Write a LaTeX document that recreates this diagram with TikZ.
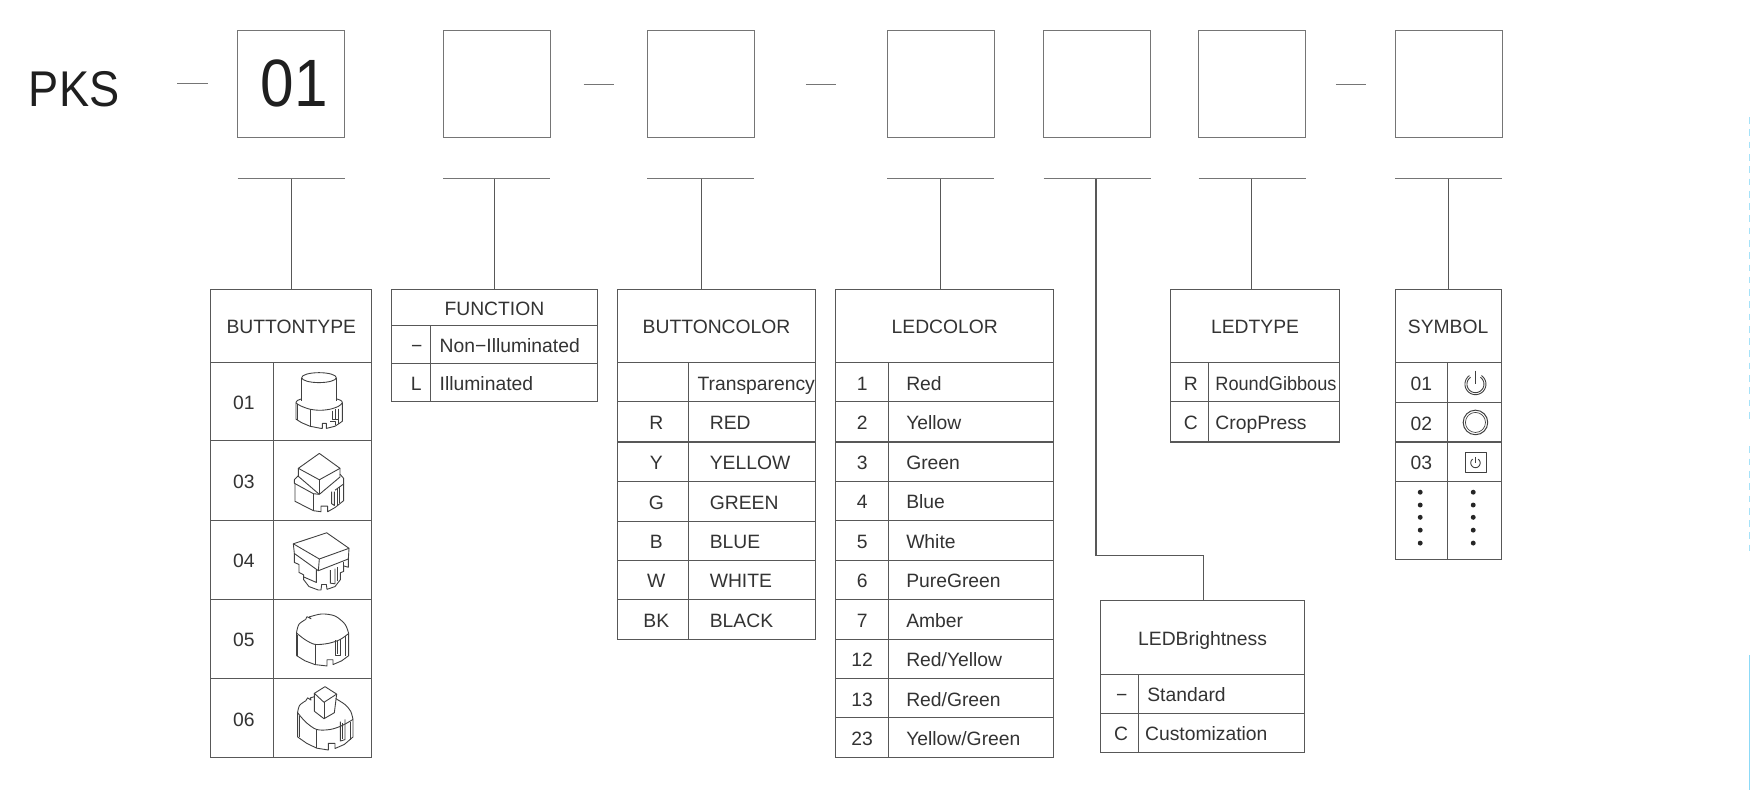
\documentclass[tikz,border=0pt]{standalone}
\usepackage{fontspec}
\setmainfont{Liberation Sans}
\definecolor{ink}{HTML}{333333}
\definecolor{rule}{HTML}{585858}
\definecolor{topline}{HTML}{757575}
\definecolor{iconline}{HTML}{404040}
\newcommand\tabfont{\fontsize{17.3}{20}\selectfont}
% \cellC{name}{x1}{y1}{x2}{y2}{text}: centred text
\newcommand\cellC[6]{%
  \pgfmathsetmacro\cw{#4-#2}\pgfmathsetmacro\ch{#5-#3}%
  \pgfmathsetmacro\cx{(#2+#4)/2}\pgfmathsetmacro\cy{(#3+#5)/2}%
  \node[cellbox,minimum width=\cw pt,minimum height=\ch pt] (#1) at (\cx,\cy) {#6};}
% \cellL{name}{x1}{y1}{x2}{y2}{inset}{text}: left-set text
\newcommand\cellL[7]{%
  \pgfmathsetmacro\cw{#4-#2}\pgfmathsetmacro\ch{#5-#3}%
  \pgfmathsetmacro\cx{(#2+#4)/2}\pgfmathsetmacro\cy{(#3+#5)/2}%
  \node[cellbox,minimum width=\cw pt,minimum height=\ch pt] (#1) at (\cx,\cy) {\makebox[\cw pt][l]{\hspace*{#6pt}#7}};}
\newcommand\powerglyph[3]{% x y r
  \draw[iconstroke] plot[domain=125:415,samples=40] ({#1+#3*cos(\x)},{#2-#3*sin(\x)});
  \draw[iconstroke] (#1,#2-1.3*#3) -- (#1,#2);}
\tikzset{
  cellbox/.style={draw=rule,line width=.95pt,inner sep=0pt,outer sep=0pt,text=ink,
    font=\tabfont,text height=14.2pt,text depth=0pt,align=center},
  codebox/.style={draw=topline,line width=1pt,minimum width=96pt,minimum height=96pt,inner sep=0pt,outer sep=0pt,text=black!88},
  barline/.style={draw=topline,line width=1pt},
  link/.style={draw=rule,line width=.95pt},
  dashline/.style={draw=topline,line width=1pt},
  iconstroke/.style={draw=iconline,line width=.8pt,line join=round},
}
\begin{document}
\begin{tikzpicture}[x=1pt,y=-1pt]
\useasboundingbox (0,0) rectangle (1568,716);
\fill[white] (0,0) rectangle (1568,716);

% heading row
\node[text=black!88,font=\fontsize{45}{50}\selectfont] (pks) at (66.5,80) {\scalebox{.9}[1]{PKS}};
\node[codebox,font=\fontsize{60}{64}\selectfont] (box1) at (261,75) {\hspace*{5pt}\scalebox{.9}[1]{01}};
\node[codebox] (box2) at (445,75) {};
\node[codebox] (box3) at (628,75) {};
\node[codebox] (box4) at (843,75) {};
\node[codebox] (box5) at (983,75) {};
\node[codebox] (box6) at (1122,75) {};
\node[codebox] (box7) at (1298,75) {};

\coordinate (d1a) at (159,75); \coordinate (d1b) at (186,75);
\coordinate (d2a) at (523,75.5); \coordinate (d2b) at (550,75.5);
\coordinate (d3a) at (722,75.5); \coordinate (d3b) at (749,75.5);
\coordinate (d4a) at (1197,75.5); \coordinate (d4b) at (1224,75.5);
\draw[dashline] (d1a) -- (d1b);
\draw[dashline] (d2a) -- (d2b);
\draw[dashline] (d3a) -- (d3b);
\draw[dashline] (d4a) -- (d4b);

% stems under the code boxes
\coordinate (t1) at (261,160);
\coordinate (t2) at (443,160);
\coordinate (t3) at (628.5,160);
\coordinate (t4) at (843,160);
\coordinate (t5) at (982,160);
\coordinate (t6) at (1121,160);
\coordinate (t7) at (1298,160);
\draw[barline] (box1.west |- t1) -- (box1.east |- t1);
\draw[barline] (box2.west |- t2) -- (box2.east |- t2);
\draw[barline] (box3.west |- t3) -- (box3.east |- t3);
\draw[barline] (box4.west |- t4) -- (box4.east |- t4);
\draw[barline] (box5.west |- t5) -- (box5.east |- t5);
\draw[barline] (box6.west |- t6) -- (box6.east |- t6);
\draw[barline] (box7.west |- t7) -- (box7.east |- t7);

% BUTTONTYPE
\cellC{bth}{189}{259}{333}{325}{BUTTONTYPE}
\cellC{bt1a}{189}{325}{245}{395}{\hspace*{3pt}01}  \cellC{bt1b}{245}{325}{333}{395}{}
\cellC{bt2a}{189}{395}{245}{466}{\hspace*{3pt}03}  \cellC{bt2b}{245}{395}{333}{466}{}
\cellC{bt3a}{189}{466}{245}{537}{\hspace*{3pt}04}  \cellC{bt3b}{245}{466}{333}{537}{}
\cellC{bt4a}{189}{537}{245}{608}{\hspace*{3pt}05}  \cellC{bt4b}{245}{537}{333}{608}{}
\cellC{bt5a}{189}{608}{245}{679}{\hspace*{3pt}06}  \cellC{bt5b}{245}{608}{333}{679}{}

% FUNCTION
\cellC{fnh}{351}{259}{535}{292}{FUNCTION}
\cellC{fn1a}{351}{292}{386}{326}{\hspace*{10pt}−}  \cellL{fn1b}{386}{292}{535}{326}{8}{Non−Illuminated}
\cellC{fn2a}{351}{326}{386}{360}{\hspace*{9pt}L}  \cellL{fn2b}{386}{326}{535}{360}{8}{Illuminated}

% BUTTONCOLOR
\cellC{bch}{553}{259}{731}{325}{BUTTONCOLOR}
\cellC{bc0a}{553}{325}{617}{360}{}   \cellL{bc0b}{617}{325}{731}{360}{8}{Transparency}
\cellC{bc1a}{553}{360}{617}{396}{\hspace*{6pt}R}  \cellL{bc1b}{617}{360}{731}{396}{19}{RED}
\cellC{bc2a}{553}{396}{617}{431}{\hspace*{6pt}Y}  \cellL{bc2b}{617}{396}{731}{431}{19}{YELLOW}
\cellC{bc3a}{553}{431}{617}{467}{\hspace*{6pt}G}  \cellL{bc3b}{617}{431}{731}{467}{19}{GREEN}
\cellC{bc4a}{553}{467}{617}{502}{\hspace*{6pt}B}  \cellL{bc4b}{617}{467}{731}{502}{19}{BLUE}
\cellC{bc5a}{553}{502}{617}{537}{\hspace*{6pt}W}  \cellL{bc5b}{617}{502}{731}{537}{19}{WHITE}
\cellC{bc6a}{553}{537}{617}{573}{\hspace*{6pt}BK} \cellL{bc6b}{617}{537}{731}{573}{19}{BLACK}

% LEDCOLOR
\cellC{lch}{749}{259}{944}{325}{LEDCOLOR}
\cellC{lc1a}{749}{325}{796}{360}{1}   \cellL{lc1b}{796}{325}{944}{360}{16}{Red}
\cellC{lc2a}{749}{360}{796}{396}{2}   \cellL{lc2b}{796}{360}{944}{396}{16}{Yellow}
\cellC{lc3a}{749}{396}{796}{431}{3}   \cellL{lc3b}{796}{396}{944}{431}{16}{Green}
\cellC{lc4a}{749}{431}{796}{466}{4}   \cellL{lc4b}{796}{431}{944}{466}{16}{Blue}
\cellC{lc5a}{749}{466}{796}{502}{5}   \cellL{lc5b}{796}{466}{944}{502}{16}{White}
\cellC{lc6a}{749}{502}{796}{537}{6}   \cellL{lc6b}{796}{502}{944}{537}{16}{PureGreen}
\cellC{lc7a}{749}{537}{796}{573}{7}   \cellL{lc7b}{796}{537}{944}{573}{16}{Amber}
\cellC{lc8a}{749}{573}{796}{608}{12}  \cellL{lc8b}{796}{573}{944}{608}{16}{Red/Yellow}
\cellC{lc9a}{749}{608}{796}{643}{13}  \cellL{lc9b}{796}{608}{944}{643}{16}{Red/Green}
\cellC{lc10a}{749}{643}{796}{679}{23} \cellL{lc10b}{796}{643}{944}{679}{16}{Yellow/Green}

% LEDTYPE
\cellC{lth}{1049}{259}{1200}{325}{LEDTYPE}
\cellC{lt1a}{1049}{325}{1083}{360}{\hspace*{2pt}R}  \cellL{lt1b}{1083}{325}{1200}{360}{6}{\scalebox{.94}[1]{RoundGibbous}}
\cellC{lt2a}{1049}{360}{1083}{396}{\hspace*{2pt}C}  \cellL{lt2b}{1083}{360}{1200}{396}{6}{CropPress}

% SYMBOL
\cellC{syh}{1250}{259}{1345}{325}{SYMBOL}
\cellC{sy1a}{1250}{325}{1297}{361}{01}  \cellC{sy1b}{1297}{325}{1345}{361}{}
\cellC{sy2a}{1250}{361}{1297}{396}{02}  \cellC{sy2b}{1297}{361}{1345}{396}{}
\cellC{sy3a}{1250}{396}{1297}{431}{03}  \cellC{sy3b}{1297}{396}{1345}{431}{}
\cellC{sy4a}{1250}{431}{1297}{501}{}    \cellC{sy4b}{1297}{431}{1345}{501}{}

% LEDBrightness
\cellC{lbh}{986}{538}{1169}{604}{LEDBrightness}
\cellC{lb1a}{986}{604}{1020}{639}{\hspace*{4pt}−}  \cellL{lb1b}{1020}{604}{1169}{639}{8}{Standard}
\cellC{lb2a}{986}{639}{1020}{674}{\hspace*{3pt}C}  \cellL{lb2b}{1020}{639}{1169}{674}{6}{Customization}

% stems
\draw[link] (t1) -- (t1 |- bth.north);
\draw[link] (t2) -- (t2 |- fnh.north);
\draw[link] (t3) -- (t3 |- bch.north);
\draw[link] (t4) -- (t4 |- lch.north);
\draw[link] (t6) -- (t6 |- lth.north);
\draw[link] (t7) -- (t7 |- syh.north);
\coordinate (lbtop) at (1078,538);
\coordinate (lbelbow) at (982,498);
\draw[link] (t5) -- (lbelbow) -| (lbh.north -| lbtop);

% symbols
\powerglyph{1322}{344.2}{9.4}
\powerglyph{1322}{344.2}{7.6}
\draw[iconstroke,line width=.9pt] (1322,378.5) circle (11pt);
\draw[iconstroke,line width=.6pt] (1322,378.5) circle (9pt);
\draw[iconstroke,line width=.8pt] (1312.6,405) rectangle (1331.4,423.5);
\powerglyph{1322}{414.8}{4.2}
\foreach \dy in {441,452.5,463.5,475,486.6}{
  \fill[black!85] (1272.5,\dy) circle (2.2pt);
  \fill[black!85] (1320,\dy) circle (2.2pt);
}

% button 01
\begin{scope}[shift={(255.36,321.5)},xscale=.2987,yscale=.318]
\draw[iconstroke] (102,53) ellipse [x radius=52pt,y radius=14pt];
\draw[iconstroke] (50,53) -- (50,118);
\draw[iconstroke] (155,53) -- (155,118);
\draw[iconstroke] plot[smooth,tension=.5] coordinates {(50,113) (38,117) (33,124) (48,133) (75,142) (105,145) (135,142) (160,134) (172,124) (167,117) (155,113)};
\draw[iconstroke] (33,124) -- (33,170) -- (50,180) -- (75,190) -- (108,196) -- (112,196) -- (112,182) -- (124,182) -- (124,196) -- (150,190) -- (172,176) -- (172,124);
\draw[iconstroke] (38,128) -- (38,172);
\draw[iconstroke] (75,142) -- (75,190);
\draw[iconstroke] (142,146) -- (142,172) -- (160,172);
\draw[iconstroke] (150,142) -- (150,172);
\draw[iconstroke] (160,140) -- (160,184);
\draw[iconstroke] (135,176) -- (150,176) -- (150,186);
\end{scope}

% button 03
\begin{scope}[shift={(255.36,393.8)},xscale=.2987,yscale=.311]
\draw[iconstroke] (103,40) -- (165,83) -- (103,116) -- (40,83) -- cycle;
\draw[iconstroke] (40,83) -- (40,106) -- (103,158) -- (165,108) -- (165,83);
\draw[iconstroke] (103,116) -- (103,158);
\draw[iconstroke] (40,104) -- (28,116) -- (28,126) -- (85,156) -- (103,158);
\draw[iconstroke] (165,100) -- (176,112) -- (176,128) -- (150,146);
\draw[iconstroke] (30,126) -- (30,178) -- (85,205) -- (108,208) -- (108,192) -- (128,192) -- (128,208) -- (150,196) -- (176,176) -- (176,128);
\draw[iconstroke] (85,156) -- (85,205);
\draw[iconstroke] (140,150) -- (140,185) -- (148,190) -- (148,150);
\draw[iconstroke] (158,142) -- (158,190);
\draw[iconstroke] (164,138) -- (164,184);
\end{scope}

% button 04
\begin{scope}[shift={(255.36,465)},xscale=.2987,yscale=.309]
\draw[iconstroke] (125,40) -- (192,85) -- (103,116) -- (25,72) -- cycle;
\draw[iconstroke] (25,72) -- (28,100) -- (100,150) -- (190,116) -- (192,85);
\draw[iconstroke] (103,116) -- (100,150);
\draw[iconstroke] (28,100) -- (28,126) -- (42,132) -- (42,155) -- (56,162) -- (56,176) -- (72,196) -- (100,206) -- (108,206) -- (110,190) -- (124,190) -- (126,204) -- (150,196) -- (166,176) -- (166,156) -- (176,152) -- (176,136) -- (190,140) -- (190,116);
\draw[iconstroke] (94,148) -- (94,184) -- (56,168);
\draw[iconstroke] (136,148) -- (136,186) -- (150,188) -- (150,144);
\draw[iconstroke] (158,140) -- (158,180);
\draw[iconstroke] (176,136) -- (176,126);
\end{scope}

% button 05
\begin{scope}[shift={(255.36,541.5)},xscale=.2987,yscale=.3066]
\draw[iconstroke] plot[smooth,tension=.5] coordinates {(35,80) (42,58) (62,44)};
\draw[iconstroke] (62,44) -- (66,36) -- (78,42) -- (72,37);
\draw[iconstroke] plot[smooth,tension=.5] coordinates {(72,37) (110,28) (150,34) (180,58) (191,85)};
\draw[iconstroke] plot[smooth,tension=.5] coordinates {(35,84) (60,103) (90,117) (130,114) (165,103) (191,85)};
\draw[iconstroke] (35,80) -- (35,150) -- (60,165) -- (90,176) -- (126,180) -- (126,162) -- (144,162) -- (144,176) -- (170,165) -- (191,150) -- (191,85);
\draw[iconstroke] (38,90) -- (38,150);
\draw[iconstroke] (90,117) -- (90,176);
\draw[iconstroke] (152,105) -- (152,150) -- (165,150) -- (165,100);
\draw[iconstroke] (158,108) -- (158,146);
\draw[iconstroke] (182,92) -- (182,152);
\end{scope}

% button 06
\begin{scope}[shift={(255.36,605.2)},xscale=.2987,yscale=.334]
\draw[iconstroke] (120,30) -- (155,50) -- (117,72) -- (88,48) -- cycle;
\draw[iconstroke] (88,48) -- (88,96) -- (117,116) -- (148,100) -- (155,50);
\draw[iconstroke] (117,72) -- (117,116);
\draw[iconstroke] plot[smooth,tension=.5] coordinates {(38,98) (44,80) (62,68)};
\draw[iconstroke] (62,68) -- (68,60) -- (78,66) -- (76,60) -- (88,57);
\draw[iconstroke] plot[smooth,tension=.5] coordinates {(152,62) (180,78) (197,96) (204,118)};
\draw[iconstroke] plot[smooth,tension=.5] coordinates {(38,100) (62,125) (95,145) (135,145) (170,135) (204,118)};
\draw[iconstroke] (38,98) -- (38,165) -- (65,182) -- (95,195) -- (130,200) -- (130,182) -- (150,182) -- (150,196) -- (178,185) -- (204,165) -- (204,118);
\draw[iconstroke] (42,108) -- (42,166);
\draw[iconstroke] (95,145) -- (95,195);
\draw[iconstroke] (166,124) -- (166,176) -- (180,172) -- (180,118);
\draw[iconstroke] (172,128) -- (172,170);
\draw[iconstroke] (195,125) -- (195,172);
\end{scope}

% scan residue on the right edge
\draw[cyan!35,line width=.8pt,dash pattern=on 6pt off 5pt] (1567.5,105) -- (1567.5,376);
\draw[cyan!35,line width=.8pt,dash pattern=on 6pt off 5pt] (1567.5,400) -- (1567.5,496);
\draw[cyan!45,line width=.8pt] (1567.5,587) -- (1567.5,708);
\end{tikzpicture}
\end{document}
